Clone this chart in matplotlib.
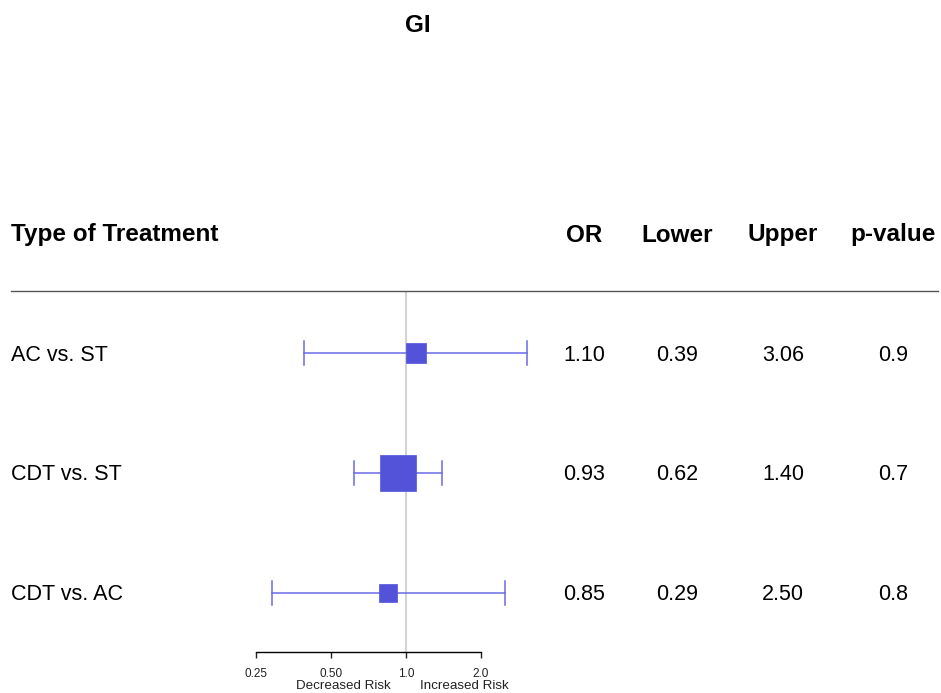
import numpy as np
import matplotlib
matplotlib.use("Agg")
import matplotlib.pyplot as plt

plt.rcParams['font.family'] = ['Liberation Sans', 'DejaVu Sans']

title = "GI"
labels = ["AC vs. ST", "CDT vs. ST", "CDT vs. AC"]
odds = [1.10, 0.93, 0.85]
lower = [0.39, 0.62, 0.29]
upper = [3.06, 1.40, 2.50]
pvals = ["0.9", "0.7", "0.8"]
headers = ["OR", "Lower", "Upper", "p-value"]
ticks = [0.25, 0.50, 1.0, 2.0]
tick_labels = ["0.25", "0.50", "1.0", "2.0"]

box_px = [20, 36, 18]  # style: square sizes in pixels

W, H = 941, 693
fig = plt.figure(figsize=(W / 100, H / 100), dpi=100)

def fx(px):
    return px / W

def fy(py):
    return 1 - py / H

# pixel mapping: x = 406 + 75*log2(v)
ax_left, ax_right = 240, 545
ax_top, ax_bot = 292, 652
ax = fig.add_axes([fx(ax_left), fy(ax_bot), fx(ax_right - ax_left), (ax_bot - ax_top) / H])
xmin = 2 ** ((ax_left - 406) / 75)
xmax = 2 ** ((ax_right - 406) / 75)
ax.set_xscale('log', base=2)
ax.set_xlim(xmin, xmax)
y_top = 3 + (353 - ax_top) / 120
y_bot = 1 - (ax_bot - 593) / 120
ax.set_ylim(y_bot, y_top)

ax.axvline(1.0, color='#D3D3D3', lw=1.5, zorder=1)

line_col = '#6a6ae4'
box_col = '#5353DA'
ys = [3, 2, 1]
for y, o, lo, up, b in zip(ys, odds, lower, upper, box_px):
    ax.plot([lo, up], [y, y], color=line_col, lw=1.1, zorder=2)
    ax.plot([lo, lo], [y - 0.1, y + 0.1], color=line_col, lw=1.1, zorder=2)
    ax.plot([up, up], [y - 0.1, y + 0.1], color=line_col, lw=1.1, zorder=2)
    ax.plot([o], [y], marker='s', ms=b * 0.72, color=box_col, mec=box_col, mew=0.5, zorder=3, ls='none')

for s in ['top', 'right', 'left']:
    ax.spines[s].set_visible(False)
ax.spines['bottom'].set_bounds(ticks[0], ticks[-1])
ax.spines['bottom'].set_linewidth(1.0)
ax.set_yticks([])
ax.set_xticks(ticks)
ax.set_xticklabels(tick_labels)
ax.minorticks_off()
ax.tick_params(axis='x', direction='out', length=4.5, width=1.0, labelsize=8.5, pad=7, colors='#222222')
ax.patch.set_visible(False)

fig.text(fx(343), fy(686), "Decreased Risk", ha='center', va='center', fontsize=9.6, color='#222222')
fig.text(fx(464), fy(686), "Increased Risk", ha='center', va='center', fontsize=9.6, color='#222222')

# title
fig.text(fx(418), fy(26), title, ha='center', va='center', fontsize=17.5, fontweight='bold')

# headers
fig.text(fx(11), fy(235), "Type of Treatment", ha='left', va='center', fontsize=17.5, fontweight='bold')
col_x = [584, 677, 783, 893]
for cx, h in zip(col_x, headers):
    fig.text(fx(cx), fy(235), h, ha='center', va='center', fontsize=17.5, fontweight='bold')

# header rule
fig.add_artist(plt.Line2D([fx(11), fx(938)], [fy(291), fy(291)], color='#555555', lw=1.0))

row_py = [355, 475, 595]
for py, lab, o, lo, up, p in zip(row_py, labels, odds, lower, upper, pvals):
    fig.text(fx(11), fy(py), lab, ha='left', va='center', fontsize=15.5)
    for cx, v in zip(col_x, [f"{o:.2f}", f"{lo:.2f}", f"{up:.2f}", p]):
        fig.text(fx(cx), fy(py), v, ha='center', va='center', fontsize=15.5)

fig.savefig("out.png", dpi=100)
